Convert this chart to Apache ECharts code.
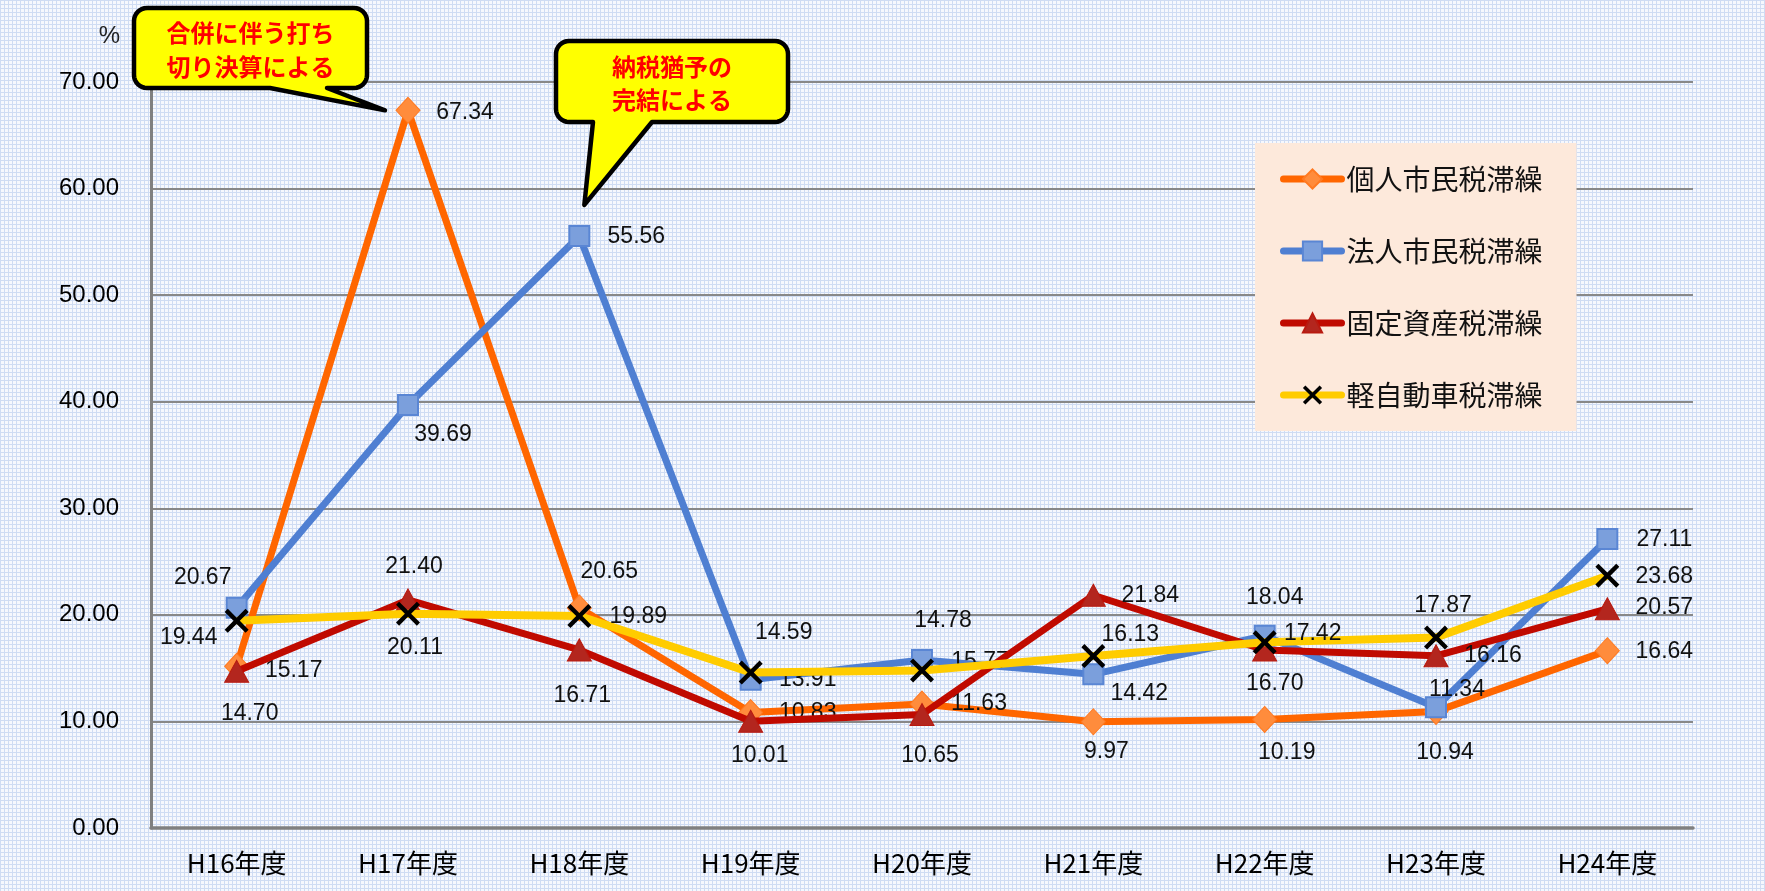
<!DOCTYPE html>
<html>
<head>
<meta charset="utf-8">
<script src="https://cdn.jsdelivr.net/npm/echarts@6/dist/echarts.min.js"></script>
<style>
html,body{margin:0;padding:0;}
#chart{width:1765px;height:891px;}
</style>
</head>
<body>
<div id="chart"></div>
<script>
// ---- data ----
const categories = ['H16年度','H17年度','H18年度','H19年度','H20年度','H21年度','H22年度','H23年度','H24年度'];
const seriesNames = ['個人市民税滞繰','法人市民税滞繰','固定資産税滞繰','軽自動車税滞繰'];
const kojin = [15.17, 67.34, 20.65, 10.83, 11.63, 9.97, 10.19, 10.94, 16.64];
const hojin = [20.67, 39.69, 55.56, 13.91, 15.77, 14.42, 18.04, 11.34, 27.11];
const kotei = [14.70, 21.40, 16.71, 10.01, 10.65, 21.84, 16.70, 16.16, 20.57];
const kei   = [19.44, 20.11, 19.89, 14.59, 14.78, 16.13, 17.42, 17.87, 23.68];
const yMin = 0, yMax = 70, yInterval = 10;
const unitLabel = '%';
const callout1Text = ['合併に伴う打ち','切り決算による'];
const callout2Text = ['納税猶予の','完結による'];

// ---- label placement (style) ----
const offKojin = [[57,4],[57,2],[30,-36],[57,0],[57,0],[13,30],[22,33],[9,41],[57,1]];
const offHojin = [[-34,-30],[35,30],[57,1],[57,0],[58,2],[46,19],[10,-38],[21,-17],[57,1]];
const offKotei = [[13,42],[6,-33],[3,46],[9,34],[8,41],[57,0],[10,34],[57,0],[57,-1]];
const offKei   = [[-48,17],[7,34],[59,1],[33,-40],[21,-50],[37,-21],[48,-9],[7,-32],[57,1]];

function withLabels(values, offsets){
  return values.map((v,i)=>({value:v, label:{offset:offsets[i]}}));
}

// background pattern
const pc = document.createElement('canvas');
pc.width = 4; pc.height = 4;
const g = pc.getContext('2d');
g.fillStyle = '#F6F8FD'; g.fillRect(0,0,4,4);
g.fillStyle = '#CFDCF3'; g.fillRect(0,0,4,1); g.fillRect(0,0,1,4);

const numFont = '"Liberation Sans", Arial, sans-serif';
const jpFont = '"Noto Sans CJK JP", sans-serif';

const labelBase = {
  show:true, position:'inside', color:'#111', fontSize:23, fontFamily:numFont,
  align:'center', verticalAlign:'middle',
  formatter: p => p.value.toFixed(2)
};

const xPath = 'path://M0,1.3 L1.3,0 L5,3.7 L8.7,0 L10,1.3 L6.3,5 L10,8.7 L8.7,10 L5,6.3 L1.3,10 L0,8.7 L3.7,5 Z';

const chart = echarts.init(document.getElementById('chart'), null, {renderer:'canvas'});
const option = {
  animation:false,
  backgroundColor:{image:pc, repeat:'repeat'},
  grid:{left:151, right:72, top:82, bottom:63, containLabel:false},
  legend:{
    orient:'vertical', left:1255, top:143,
    backgroundColor:'#FDE9DB',
    padding:[21,34,21,25],
    itemGap:42, itemWidth:58, itemHeight:24,
    lineStyle:{width:7, cap:'round'},
    textStyle:{fontSize:28, fontFamily:jpFont, color:'#111', lineHeight:30},
    data:seriesNames
  },
  xAxis:{
    type:'category', data:categories, boundaryGap:true,
    axisLine:{lineStyle:{color:'#808080', width:3.5}},
    axisTick:{show:false},
    axisLabel:{fontSize:26, color:'#000', fontFamily:jpFont, margin:22},
    splitLine:{show:false}
  },
  yAxis:{
    type:'value', min:yMin, max:yMax, interval:yInterval,
    axisLine:{show:true, lineStyle:{color:'#808080', width:3}},
    axisTick:{show:false},
    axisLabel:{fontSize:24, color:'#000', fontFamily:numFont, margin:32, formatter:v=>v.toFixed(2)},
    splitLine:{lineStyle:{color:'#888888', width:2}}
  },
  series:[
    {
      name:seriesNames[0], type:'line', data:withLabels(kojin, offKojin),
      symbol:'diamond', symbolSize:[24,26],
      lineStyle:{color:'#FF6600', width:7},
      itemStyle:{color:'#FF8C3C', borderColor:'#FF7A22', borderWidth:1},
      label:labelBase, z:2
    },
    {
      name:seriesNames[1], type:'line', data:withLabels(hojin, offHojin),
      symbol:'rect', symbolSize:20,
      lineStyle:{color:'#4F7FD2', width:7},
      itemStyle:{color:'#7B9FDC', borderColor:'#5A86D4', borderWidth:2},
      label:labelBase, z:3
    },
    {
      name:seriesNames[2], type:'line', data:withLabels(kotei, offKotei),
      symbol:'triangle', symbolSize:[24,22],
      lineStyle:{color:'#C00A00', width:7},
      itemStyle:{color:'#B3261E', borderColor:'#B81A10', borderWidth:1},
      label:labelBase, z:4
    },
    {
      name:seriesNames[3], type:'line', data:withLabels(kei, offKei),
      symbol:xPath, symbolSize:24,
      lineStyle:{color:'#FFCC00', width:8},
      itemStyle:{color:'#000000'},
      label:labelBase, z:5
    }
  ]
};
chart.setOption(option);

// ---- callouts anchored to data points ----
function bubblePoints(x0,y0,x1,y1,r,bx1,bx2,tx,ty){
  const pts=[];
  function arc(cx,cy,a0,a1){
    for(let k=0;k<=8;k++){
      const a=(a0+(a1-a0)*k/8)*Math.PI/180;
      pts.push([cx+r*Math.cos(a), cy+r*Math.sin(a)]);
    }
  }
  arc(x0+r,y0+r,180,270);
  arc(x1-r,y0+r,270,360);
  arc(x1-r,y1-r,0,90);
  pts.push([bx2,y1]); pts.push([tx,ty]); pts.push([bx1,y1]);
  arc(x0+r,y1-r,90,180);
  return pts;
}
const p1 = chart.convertToPixel({gridIndex:0}, [1, kojin[1]]);
const p2 = chart.convertToPixel({gridIndex:0}, [2, hojin[2]]);
const t1 = [p1[0]-23, p1[1]];
const t2 = [p2[0]+5, p2[1]-31];
const box1 = {x0:134, y0:8, x1:367, y1:88, bx1:270, bx2:327};
const box2 = {x0:556, y0:41, x1:788, y1:122, bx1:593, bx2:652};
const calloutStyle = {fill:'#FFFF00', stroke:'#000000', lineWidth:4.5, lineJoin:'round'};
const textStyle = {fill:'#FF0000', font:'bold 24px "Noto Sans CJK JP", sans-serif', textAlign:'center', textVerticalAlign:'middle'};
chart.setOption({
  graphic:[
    {type:'polygon', z:10, shape:{points:bubblePoints(box1.x0,box1.y0,box1.x1,box1.y1,13,box1.bx1,box1.bx2,t1[0],t1[1])}, style:calloutStyle},
    {type:'text', z:11, x:(box1.x0+box1.x1)/2, y:33, style:Object.assign({text:callout1Text[0]}, textStyle)},
    {type:'text', z:11, x:(box1.x0+box1.x1)/2, y:67, style:Object.assign({text:callout1Text[1]}, textStyle)},
    {type:'polygon', z:10, shape:{points:bubblePoints(box2.x0,box2.y0,box2.x1,box2.y1,13,box2.bx1,box2.bx2,t2[0],t2[1])}, style:calloutStyle},
    {type:'text', z:11, x:(box2.x0+box2.x1)/2, y:67, style:Object.assign({text:callout2Text[0]}, textStyle)},
    {type:'text', z:11, x:(box2.x0+box2.x1)/2, y:100, style:Object.assign({text:callout2Text[1]}, textStyle)},
    {type:'text', z:11, x:120, y:36, style:{text:unitLabel, fill:'#222', font:'24px "Liberation Sans", Arial, sans-serif', textAlign:'right', textVerticalAlign:'middle'}}
  ]
});
</script>
</body>
</html>
